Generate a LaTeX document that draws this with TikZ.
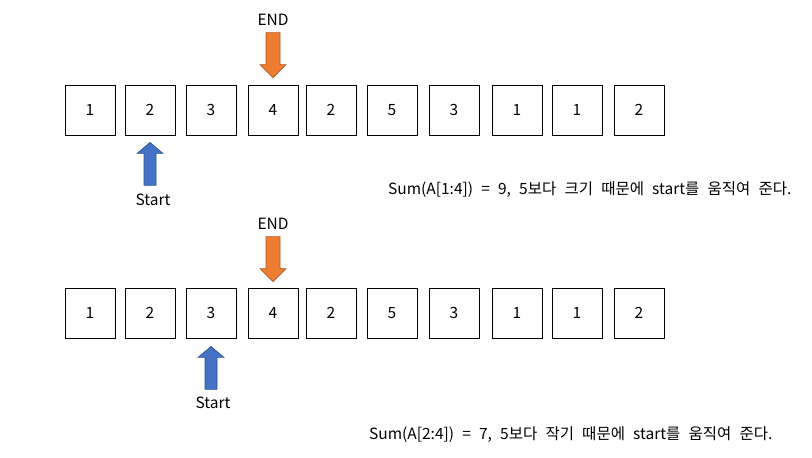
\documentclass[tikz,border=0pt]{standalone}
\usepackage{fontspec}
\setmainfont{Noto Sans CJK KR}
\newcommand\notefont{\fontsize{15.5}{18}\selectfont\spaceskip=8.2pt\relax}
\begin{document}
\begin{tikzpicture}[x=1pt,y=-1pt,
  cell/.style={draw,line width=0.8pt,minimum width=50pt,minimum height=50pt,inner sep=0pt},
  lbl/.style={inner sep=0pt},
  note/.style={inner sep=0pt,anchor=west,font=\notefont},
  endarrow/.pic={\filldraw[endFill,draw=endEdge,line width=0.6pt]
    (-7,-45) -- (7,-45) -- (7,-13) -- (13,-13) -- (0,0) -- (-13,-13) -- (-7,-13) -- cycle;},
  startarrow/.pic={\filldraw[startFill,draw=startEdge,line width=0.6pt]
    (-6,43) -- (6,43) -- (6,11) -- (13,11) -- (0,0) -- (-13,11) -- (-6,11) -- cycle;}]
\definecolor{endFill}{HTML}{ED7D31}
\definecolor{endEdge}{HTML}{AE5A21}
\definecolor{startFill}{HTML}{4472C4}
\definecolor{startEdge}{HTML}{2F528F}
\useasboundingbox (0,0) rectangle (812,458);
\fontsize{15.5}{18}\selectfont
% the two rows of cells
\foreach \i/\x/\v in {1/90/1,2/150/2,3/211/3,4/273/4,5/331/2,6/392/5,7/454/3,8/517/1,9/577/1,10/639/2} {
  \node[cell] (top\i) at (\x,110) {\v};
  \node[cell] (bot\i) at (\x,313) {\v};
}
% first step
\pic at ([yshift=7pt]top4.north) {endarrow};
\node[lbl] (endTop) at (273,20) {END};
\pic at ([yshift=-7pt]top2.south) {startarrow};
\node[lbl] (startTop) at (153,200) {Start};
\node[note] (noteTop) at (388,190) {Sum(A[1:4]) = 9, 5보다 크기 때문에 start를 움직여 준다.};
% second step
\pic at ([yshift=6pt]bot4.north) {endarrow};
\node[lbl] (endBot) at (273,224) {END};
\pic at ([yshift=-8pt]bot3.south) {startarrow};
\node[lbl] (startBot) at (213,403) {Start};
\node[note] (noteBot) at (369,435) {Sum(A[2:4]) = 7, 5보다 작기 때문에 start를 움직여 준다.};
\end{tikzpicture}
\end{document}
